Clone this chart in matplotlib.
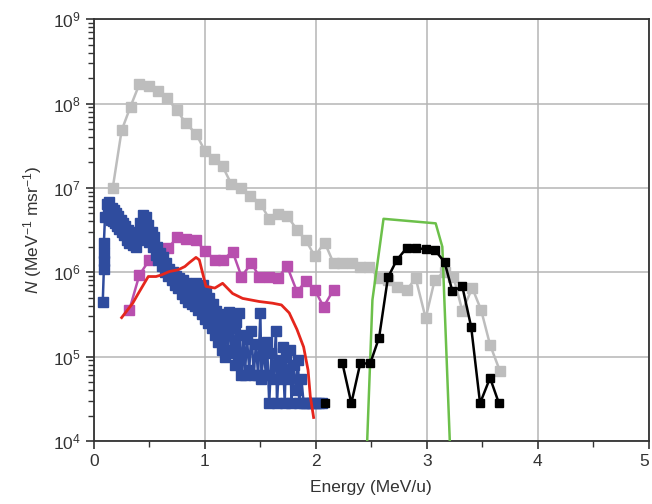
import numpy as np
import matplotlib
matplotlib.use('Agg')
import matplotlib.pyplot as plt
from matplotlib.ticker import LogLocator, MultipleLocator, NullFormatter

plt.rcParams['font.family'] = ['Liberation Sans', 'DejaVu Sans']
plt.rcParams['mathtext.fontset'] = 'custom'
plt.rcParams['mathtext.rm'] = 'Liberation Sans'
plt.rcParams['mathtext.it'] = 'Liberation Sans:italic'

# --- DATA ---

gray_e = [0.17, 0.25, 0.33, 0.41, 0.50, 0.58, 0.66, 0.75, 0.83, 0.92, 1.00, 1.08,
          1.16, 1.24, 1.33, 1.41, 1.50, 1.58, 1.66, 1.74, 1.83, 1.91, 1.99, 2.08,
          2.16, 2.24, 2.33, 2.40, 2.48, 2.57, 2.65, 2.73, 2.82, 2.90, 2.99, 3.07,
          3.16, 3.24, 3.32, 3.41, 3.49, 3.57, 3.66]
gray_n = [1.0e7, 4.8e7, 9.2e7, 1.7e8, 1.6e8, 1.4e8, 1.15e8, 8.3e7, 5.8e7, 4.4e7,
          2.75e7, 2.2e7, 1.8e7, 1.1e7, 1.0e7, 8.1e6, 6.5e6, 4.3e6, 4.9e6, 4.7e6,
          3.2e6, 2.4e6, 1.55e6, 2.25e6, 1.28e6, 1.28e6, 1.3e6, 1.17e6, 1.17e6,
          8.5e5, 8.1e5, 6.6e5, 6.2e5, 8.5e5, 2.85e5, 8.0e5, 1.02e6, 8.9e5, 3.5e5,
          6.5e5, 3.55e5, 1.38e5, 6.7e4]

blue_e = [0.08, 0.09, 0.09, 0.09, 0.09, 0.10, 0.12, 0.13, 0.14, 0.15, 0.16, 0.17,
          0.18, 0.19, 0.20, 0.21, 0.22, 0.23, 0.24, 0.25, 0.26, 0.27, 0.28, 0.30,
          0.31, 0.32, 0.33, 0.35, 0.36, 0.38, 0.39, 0.40, 0.42, 0.43, 0.44, 0.46,
          0.47, 0.48, 0.49, 0.50, 0.52, 0.53, 0.54, 0.56, 0.57, 0.58, 0.60, 0.61,
          0.62, 0.64, 0.65, 0.67, 0.68, 0.70, 0.71, 0.73, 0.74, 0.76, 0.77, 0.79,
          0.80, 0.82, 0.83, 0.85, 0.86, 0.88, 0.89, 0.91, 0.92, 0.94, 0.95, 0.97,
          0.98, 1.00, 1.01, 1.03, 1.04, 1.06, 1.07, 1.09, 1.10, 1.12, 1.13, 1.15,
          1.16, 1.18, 1.19, 1.21, 1.22, 1.24, 1.25, 1.27, 1.28, 1.30, 1.31, 1.33,
          1.35, 1.36, 1.38, 1.40, 1.42, 1.44, 1.46, 1.48, 1.50, 1.51, 1.53, 1.55,
          1.56, 1.58, 1.60, 1.62, 1.64, 1.65, 1.67, 1.69, 1.70, 1.72, 1.73, 1.75,
          1.77, 1.78, 1.80, 1.82, 1.84, 1.85, 1.87, 1.89, 1.91, 1.94, 1.97, 2.00,
          2.03, 2.06]
blue_n = [4.5e5, 1.1e6, 1.35e6, 1.7e6, 2.2e6, 4.5e6, 6.5e6, 5.5e6, 6.8e6, 4.2e6,
          5.8e6, 4.0e6, 5.5e6, 3.8e6, 5.0e6, 3.5e6, 4.6e6, 3.3e6, 4.2e6, 3.0e6,
          3.8e6, 2.8e6, 3.5e6, 2.4e6, 3.2e6, 2.2e6, 2.8e6, 2.1e6, 2.6e6, 2.0e6,
          3.0e6, 2.4e6, 3.8e6, 2.8e6, 4.8e6, 3.2e6, 4.5e6, 2.7e6, 3.6e6, 2.3e6,
          3.0e6, 2.0e6, 2.6e6, 1.6e6, 2.0e6, 1.4e6, 1.7e6, 1.2e6, 1.5e6, 1.0e6,
          1.3e6, 9.0e5, 1.1e6, 8.0e5, 1.0e6, 7.0e5, 9.0e5, 6.5e5, 8.5e5, 5.5e5,
          8.0e5, 5.0e5, 7.5e5, 4.5e5, 7.0e5, 4.2e5, 6.5e5, 4.0e5, 7.5e5, 3.6e5,
          6.0e5, 3.2e5, 7.0e5, 2.8e5, 6.0e5, 2.5e5, 5.0e5, 2.2e5, 4.2e5, 1.8e5,
          3.5e5, 1.5e5, 3.0e5, 1.2e5, 2.5e5, 1.0e5, 3.2e5, 1.1e5, 3.4e5, 1.2e5,
          2.2e5, 8.0e4, 2.6e5, 1.0e5, 3.3e5, 6.0e4, 1.8e5, 6.0e4, 1.6e5, 7.0e4,
          2.0e5, 6.0e4, 1.4e5, 6.0e4, 3.3e5, 5.5e4, 1.3e5, 6.0e4, 1.5e5, 2.8e4,
          1.1e5, 5.5e4, 2.0e5, 2.8e4, 9.0e4, 5.5e4, 1.3e5, 2.8e4, 1.0e5, 5.5e4,
          1.2e5, 2.8e4, 8.0e4, 4.0e4, 9.0e4, 2.8e4, 5.5e4, 2.8e4, 2.8e4, 2.8e4,
          2.8e4, 2.8e4, 2.8e4, 2.8e4]

magenta_e = [0.32, 0.41, 0.50, 0.58, 0.67, 0.75, 0.83, 0.92, 1.00, 1.09, 1.16,
             1.25, 1.33, 1.42, 1.49, 1.58, 1.66, 1.74, 1.83, 1.91, 1.99, 2.07, 2.16]
magenta_n = [3.6e5, 9.3e5, 1.4e6, 1.6e6, 1.93e6, 2.6e6, 2.5e6, 2.4e6, 1.8e6,
             1.4e6, 1.4e6, 1.76e6, 8.9e5, 1.28e6, 8.9e5, 8.9e5, 8.5e5, 1.19e6,
             5.9e5, 7.8e5, 6.2e5, 3.9e5, 6.2e5]

red_e = [0.25, 0.35, 0.40, 0.49, 0.56, 0.61, 0.68, 0.76, 0.82, 0.86, 0.92, 0.95,
         1.01, 1.09, 1.16, 1.25, 1.34, 1.49, 1.61, 1.69, 1.76, 1.83, 1.89, 1.93,
         1.95, 1.98]
red_n = [2.9e5, 4.3e5, 5.6e5, 8.9e5, 8.9e5, 9.3e5, 1.02e6, 1.07e6, 1.17e6,
         1.3e6, 1.5e6, 1.4e6, 6.8e5, 6.5e5, 7.4e5, 5.6e5, 4.9e5, 4.5e5, 4.3e5,
         4.1e5, 3.3e5, 2.1e5, 1.3e5, 6.9e4, 3.4e4, 1.9e4]

green_e = [2.46, 2.51, 2.61, 3.08, 3.14, 3.21]
green_n = [8.0e3, 4.7e5, 4.3e6, 3.8e6, 2.0e6, 8.0e3]

black_e = [2.08, np.nan, 2.24, 2.32, 2.40, 2.49, 2.57, 2.65, 2.73, 2.82, 2.90,
           2.99, 3.07, 3.16, 3.23, 3.32, 3.40, 3.48, 3.57, 3.65]
black_n = [2.8e4, np.nan, 8.3e4, 2.8e4, 8.3e4, 8.3e4, 1.68e5, 8.7e5, 1.4e6,
           1.95e6, 1.93e6, 1.88e6, 1.85e6, 1.32e6, 6.0e5, 6.8e5, 2.24e5, 2.8e4,
           5.6e4, 2.8e4]

x_ticks = [0, 1, 2, 3, 4, 5]

# --- PLOT ---

fig = plt.figure(figsize=(6.52, 5.04), dpi=100)
ax = fig.add_axes([0.144, 0.125, 0.851, 0.837])

ms = 6.5
ax.plot(gray_e, gray_n, '-s', color='#bdbdbd', mec='#bdbdbd', lw=1.8, ms=ms, zorder=3)
ax.plot(blue_e, blue_n, '-s', color='#2f4c9e', mec='#2f4c9e', lw=1.8, ms=ms, zorder=4)
ax.plot(magenta_e, magenta_n, '-s', color='#b84fae', mec='#b84fae', lw=1.8, ms=ms, zorder=3)
ax.plot(red_e, red_n, '-', color='#e5261c', lw=2.0, zorder=5)
ax.plot(green_e, green_n, '-', color='#6cc04a', lw=1.8, zorder=5)
ax.plot(black_e, black_n, '-s', color='black', lw=1.8, ms=5.8, zorder=6)

ax.set_yscale('log')
ax.set_xlim(0, 5)
ax.set_ylim(1e4, 1e9)

ax.set_xticks(x_ticks, [str(t) for t in x_ticks])
ax.xaxis.set_minor_locator(MultipleLocator(0.5))
ax.yaxis.set_major_locator(LogLocator(base=10, numticks=10))
ax.yaxis.set_minor_locator(LogLocator(base=10, subs=np.arange(2, 10), numticks=20))
ax.yaxis.set_minor_formatter(NullFormatter())

ax.grid(True, which='major', color='#b5b5b5', lw=1.1, zorder=0)
ax.tick_params(axis='both', which='major', direction='out', length=6, width=1.2,
               labelsize=12.5, labelcolor='#333333', color='#333333')
ax.tick_params(axis='both', which='minor', direction='out', length=4, width=1.0,
               color='#333333')
for s in ax.spines.values():
    s.set_color('#333333')
    s.set_linewidth(1.3)

ax.set_xlabel('Energy (MeV/u)', fontsize=12.5, color='#333333', labelpad=8)
ax.set_ylabel(r'$N$ (MeV$^{-1}$ msr$^{-1}$)', fontsize=12.5, color='#333333', labelpad=6)

# the last x tick label sits at the figure edge; keep it inside
fig.canvas.draw()
ax.xaxis.get_major_ticks()[-1].label1.set_horizontalalignment('right')

plt.savefig('out.png', dpi=100)
